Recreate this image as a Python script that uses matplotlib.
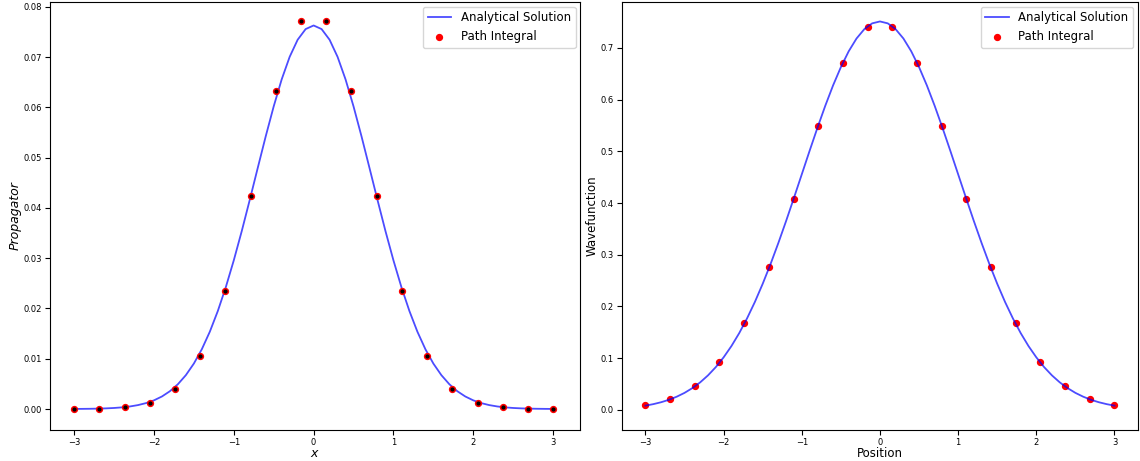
import matplotlib
matplotlib.use('Agg')
import matplotlib.pyplot as plt
import numpy as np

# Analytical curves at steps of 0.1 (x from -3 to 0, mirrored)
x_curve = np.linspace(-3, 3, 61)
prop_half = [0.000015, 0.0000263, 0.0000452, 0.0000762, 0.000126, 0.000204,
             0.000325, 0.000507, 0.000777, 0.00117, 0.00172, 0.00249, 0.00354,
             0.00493, 0.00674, 0.00904, 0.0119, 0.01538, 0.01949, 0.02423,
             0.02957, 0.0354, 0.0416, 0.04795, 0.05424, 0.0602, 0.06557,
             0.07006, 0.07346, 0.07558, 0.0763]
prop_curve = prop_half + prop_half[-2::-1]
wave_half = [0.0083, 0.0112, 0.0149, 0.0196, 0.0256, 0.0330, 0.0422, 0.0533,
             0.0668, 0.0828, 0.1017, 0.1235, 0.1486, 0.1771, 0.2088, 0.2439,
             0.2819, 0.3227, 0.3656, 0.4102, 0.4556, 0.5010, 0.5454, 0.5879,
             0.6274, 0.6628, 0.6934, 0.7181, 0.7362, 0.7474, 0.7511]
wave_curve = wave_half + wave_half[-2::-1]

# Path integral points (20 points from -3 to 3)
x_pts = [-3.0, -2.684, -2.368, -2.053, -1.737, -1.421, -1.105, -0.789, -0.474,
         -0.158, 0.158, 0.474, 0.789, 1.105, 1.421, 1.737, 2.053, 2.368,
         2.684, 3.0]
prop_pts_half = [0.0, 0.0, 0.0003, 0.0012, 0.0039, 0.0106, 0.0234, 0.0423,
                 0.0632, 0.0772]
prop_pts = prop_pts_half + prop_pts_half[::-1]
wave_pts_half = [0.009, 0.021, 0.046, 0.093, 0.168, 0.276, 0.408, 0.549,
                 0.671, 0.741]
wave_pts = wave_pts_half + wave_pts_half[::-1]

fig = plt.figure(figsize=(11.4, 4.61), dpi=100)
ax1 = fig.add_axes([0.044, 0.067, 0.465, 0.929])
ax2 = fig.add_axes([0.5456, 0.067, 0.4526, 0.929])

# Left: propagator
ax1.plot(x_curve, prop_curve, color='blue', alpha=0.7, lw=1.3,
         label='Analytical Solution', zorder=2)
ax1.scatter(x_pts, prop_pts, color='red', s=18, label='Path Integral', zorder=3)
ax1.scatter(x_pts, prop_pts, color='black', s=4, zorder=4)
ax1.set_xlabel('$x$', fontsize=9, labelpad=0)
ax1.set_ylabel('Propagator', fontsize=9, style='italic', labelpad=1)
ax1.set_yticks(np.arange(0, 0.081, 0.01))
ax1.set_ylim(-0.0042, 0.081)
ax1.set_xlim(-3.3, 3.34)
ax1.legend(fontsize=8.5, loc='upper right', borderaxespad=0.4)

# Right: wavefunction
ax2.scatter(x_pts, wave_pts, color='red', s=18, label='Path Integral', zorder=2)
ax2.plot(x_curve, wave_curve, color='blue', alpha=0.7, lw=1.3,
         label='Analytical Solution', zorder=3)
ax2.set_xlabel('Position', fontsize=8.5, labelpad=0)
ax2.set_ylabel('Wavefunction', fontsize=8.5, labelpad=1)
ax2.set_ylim(-0.039, 0.789)
ax2.set_xlim(-3.3, 3.3)
h, l = ax2.get_legend_handles_labels()
ax2.legend(h[::-1], l[::-1], fontsize=8.5, loc='upper right', borderaxespad=0.4)

for ax in (ax1, ax2):
    ax.tick_params(labelsize=6, pad=2.5)
    ax.set_xticks([-3, -2, -1, 0, 1, 2, 3])

fig.savefig('out.png', dpi=100)
